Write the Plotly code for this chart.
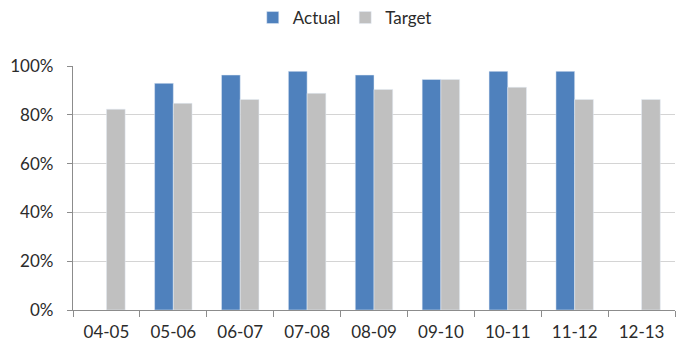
import plotly.graph_objects as go

categories = ["04-05", "05-06", "06-07", "07-08", "08-09", "09-10", "10-11", "11-12", "12-13"]
actual = [None, 0.929, 0.963, 0.978, 0.963, 0.945, 0.978, 0.978, None]
target = [0.823, 0.847, 0.863, 0.888, 0.904, 0.945, 0.913, 0.863, 0.863]
y_ticks = [0, 0.2, 0.4, 0.6, 0.8, 1.0]

font_family = "Lato, 'Open Sans', sans-serif"

fig = go.Figure()
fig.add_trace(go.Bar(name="Actual", x=categories, y=actual, marker_color="#4F81BD"))
fig.add_trace(go.Bar(name="Target", x=categories, y=target, marker_color="#C0C0C0"))

fig.update_layout(
    width=676, height=347,
    margin=dict(l=73, r=1, t=66, b=37),
    paper_bgcolor="white", plot_bgcolor="white",
    barmode="group", bargap=0.44, bargroupgap=0,
    font=dict(family=font_family, size=17, color="#2B2B2B"),
    showlegend=True,
    legend=dict(orientation="h", xref="container", yref="container",
                x=0.51, xanchor="center", y=1.0, yanchor="top",
                font=dict(size=17), itemwidth=30, traceorder="normal"),
)
fig.update_yaxes(range=[0, 1.0], tickvals=y_ticks, tickformat=".0%",
                 showgrid=True, gridcolor="#D4D4D4", gridwidth=1.3,
                 showline=True, linecolor="#8C8C8C", linewidth=1.3,
                 ticks="outside", ticklen=5, tickcolor="#8C8C8C",
                 ticklabelstandoff=10,
                 zeroline=False, fixedrange=True)
fig.update_xaxes(type="category", showline=True, linecolor="#8C8C8C", linewidth=1.3,
                 ticks="outside", tickson="boundaries", ticklen=6, tickcolor="#8C8C8C",
                 ticklabelstandoff=6, showgrid=False)

fig.write_html("out.html")
